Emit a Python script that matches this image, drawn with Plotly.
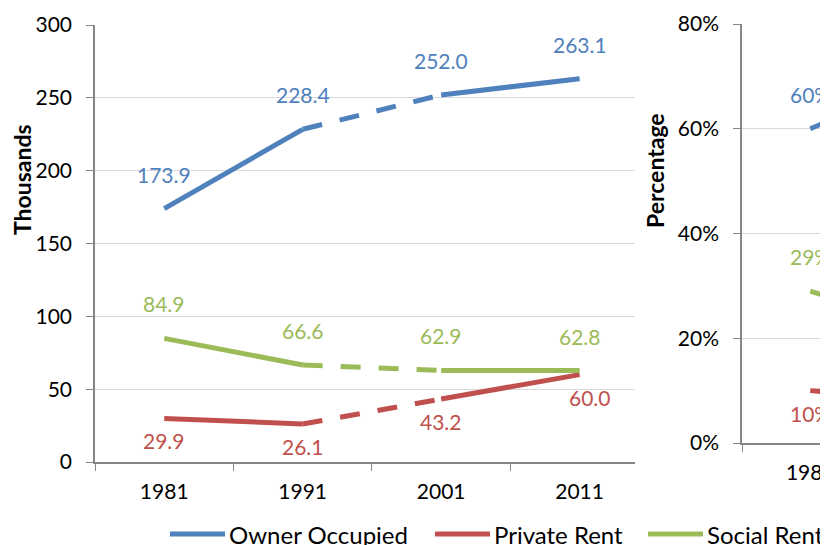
import plotly.graph_objects as go

YEARS = ["1981", "1991", "2001", "2011"]

OWNER = [173.9, 228.4, 252.0, 263.1]
PRIVATE = [29.9, 26.1, 43.2, 60.0]
SOCIAL = [84.9, 66.6, 62.9, 62.8]

OWNER_PCT = [0.60, 0.71, 0.70, 0.68]
PRIVATE_PCT = [0.10, 0.08, 0.12, 0.16]
SOCIAL_PCT = [0.29, 0.21, 0.18, 0.16]

SERIES_NAMES = ["Owner Occupied", "Private Rent", "Social Rent"]
COLORS = ["#4F81BD", "#C0504D", "#9BBB59"]

# the page body has an 8px margin, so the figure starts at (8, 8)
PAGE_W, PAGE_H, OFF = 828, 545, 8
W, H = PAGE_W - OFF, PAGE_H - OFF
FONT = "Lato, 'Open Sans', sans-serif"
GRID = "#D9D9D9"
AXIS = "#868686"


def px(x):
    return (x - OFF) / W


def py(y):
    return 1 - (y - OFF) / H


fig = go.Figure()
annotations = []


def add_series(values, color, xa, ya, fmt, below, shift_last=0):
    # solid 1981-1991 and 2001-2011, dashed 1991-2001
    fig.add_trace(go.Scatter(
        x=[YEARS[0], YEARS[1], None, YEARS[2], YEARS[3]],
        y=[values[0], values[1], None, values[2], values[3]],
        mode="lines", line=dict(color=color, width=5),
        xaxis=xa, yaxis=ya, showlegend=False, connectgaps=False,
    ))
    fig.add_trace(go.Scatter(
        x=[YEARS[1], YEARS[2]], y=[values[1], values[2]],
        mode="lines", line=dict(color=color, width=5, dash="20px,18px"),
        xaxis=xa, yaxis=ya, showlegend=False,
    ))
    for i, v in enumerate(values):
        annotations.append(dict(
            x=i, y=v, xref=xa, yref=ya, text=fmt(v), showarrow=False,
            font=dict(family=FONT, size=21, color=color),
            yanchor="top" if below else "bottom",
            yshift=-8 if below else 20,
            xshift=shift_last if i == len(values) - 1 else 0,
        ))


add_series(OWNER, COLORS[0], "x", "y", lambda v: f"{v:.1f}", False)
add_series(PRIVATE, COLORS[1], "x", "y", lambda v: f"{v:.1f}", True, 10)
add_series(SOCIAL, COLORS[2], "x", "y", lambda v: f"{v:.1f}", False)

add_series(OWNER_PCT, COLORS[0], "x2", "y2", lambda v: f"{v:.0%}", False)
add_series(PRIVATE_PCT, COLORS[1], "x2", "y2", lambda v: f"{v:.0%}", True)
add_series(SOCIAL_PCT, COLORS[2], "x2", "y2", lambda v: f"{v:.0%}", False)

# axis titles
for text, x, y in [("Thousands", 22, 180), ("Percentage", 655, 171)]:
    annotations.append(dict(
        text=f"<b>{text}</b>", textangle=-90, x=px(x), y=py(y),
        xref="paper", yref="paper", xanchor="center", yanchor="middle",
        showarrow=False, font=dict(family=FONT, size=23, color="black"),
    ))

# legend drawn by hand
shapes = []
legend_x = [170, 435, 648]
for name, color, lx in zip(SERIES_NAMES, COLORS, legend_x):
    shapes.append(dict(
        type="line", xref="paper", yref="paper",
        x0=px(lx), x1=px(lx + 55), y0=py(534), y1=py(534),
        line=dict(color=color, width=5),
    ))
    annotations.append(dict(
        text=name, x=px(lx + 57), y=py(534), xref="paper", yref="paper",
        xanchor="left", yanchor="middle", showarrow=False,
        font=dict(family=FONT, size=24, color="black"),
    ))

tick_font = dict(family=FONT, size=21, color="black")
xcommon = dict(
    type="category", categoryorder="array", categoryarray=YEARS,
    tickson="boundaries", ticks="outside", ticklen=7, tickcolor=AXIS,
    showline=True, linecolor=AXIS, linewidth=1.5, showgrid=False,
    tickfont=tick_font, ticklabelstandoff=10, zeroline=False,
    automargin=False,
)
ycommon = dict(
    ticks="outside", ticklen=7, tickcolor=AXIS, showline=True,
    linecolor=AXIS, linewidth=1.5, gridcolor=GRID, gridwidth=1,
    tickfont=tick_font, zeroline=False, ticklabelstandoff=10,
    automargin=False,
)

fig.update_layout(
    width=W, height=H,
    margin=dict(l=0, r=0, t=0, b=0),
    paper_bgcolor="white", plot_bgcolor="white",
    showlegend=False,
    xaxis=dict(xcommon, domain=[px(95), px(635)], range=[-0.5, 3.4],
               anchor="y"),
    yaxis=dict(ycommon, domain=[py(462), py(25)], range=[0, 300],
               dtick=50, anchor="x"),
    xaxis2=dict(xcommon, domain=[px(742), 1], range=[-0.5, 0.13],
                anchor="y2"),
    yaxis2=dict(ycommon, domain=[py(443), py(24)], range=[0, 0.8],
                dtick=0.2, tickformat=".0%", anchor="x2"),
    annotations=annotations,
    shapes=shapes,
)

fig.write_html("out.html")
